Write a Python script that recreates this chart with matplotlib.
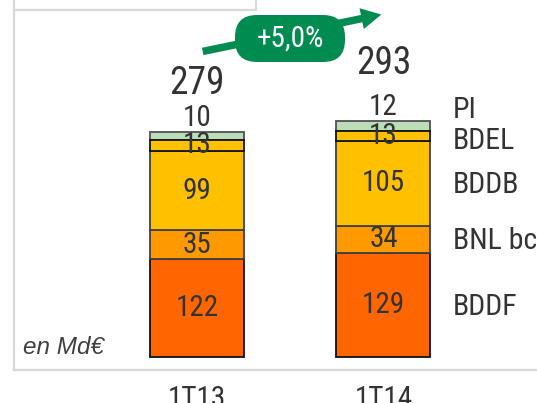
import matplotlib
matplotlib.use('Agg')
import matplotlib.pyplot as plt
from matplotlib.patches import FancyBboxPatch, FancyArrowPatch
from matplotlib.lines import Line2D
from matplotlib.transforms import IdentityTransform
import numpy as np

plt.rcParams['font.family'] = ['Roboto Condensed', 'DejaVu Sans']

# data (Md€)
periods = ['1T13', '1T14']
segments = ['BDDF', 'BNL bc', 'BDDB', 'BDEL', 'PI']
bddf = [122, 129]
bnl = [35, 34]
bddb = [99, 105]
bdel = [13, 13]
pi = [10, 12]
totals = [279, 293]
growth = '+5,0%'
unit = 'en Md€'

colors = ['#FF6600', '#FF9900', '#FFC000', '#FFC000', '#BBDEB9']
edges = ['#111111', '#404040', '#404040', '#111111', '#505050']
txt = '#333333'
green = '#008C50'
frame = '#D9D9D9'

W, H = 537, 403
fig = plt.figure(figsize=(W / 100, H / 100), dpi=100)
ax = fig.add_axes([14 / W, 33 / H, 523 / W, 370 / H])
ax.set_xlim(-0.981, 1.823)
ax.set_ylim(-16.1, 442.9)

x = np.arange(len(periods))
stack = [bddf, bnl, bddb, bdel, pi]
bottom = np.zeros(len(periods))
centers = []
for i, (vals, c, ec) in enumerate(zip(stack, colors, edges)):
    vals = np.array(vals)
    ax.bar(x, vals, 0.504, bottom=bottom, color=c, edgecolor=ec,
           linewidth=1.3, zorder=3 if segments[i] == 'BDEL' else 2)
    mid = bottom + vals / 2
    centers.append(mid)
    for j in range(len(x)):
        if segments[i] == 'PI':
            # small top segment: value sits above the bar
            ax.text(x[j], bottom[j] + vals[j] + 17, str(vals[j]), ha='center',
                    va='center', fontsize=21, color=txt, zorder=4)
        else:
            ax.text(x[j], mid[j], str(vals[j]), ha='center', va='center',
                    fontsize=21, color=txt, zorder=4)
    bottom = bottom + vals

# totals
for j, (t, off) in enumerate(zip(totals, [35, 41])):
    ax.annotate(str(t), (x[j], t), xytext=(0, off), textcoords='offset points',
                ha='center', va='center', fontsize=27, color=txt)

# segment names to the right of last bar
name_y = [c[-1] for c in centers]
name_y[3] -= 5
name_y[4] = totals[-1] + 15
for name, yy in zip(segments, name_y):
    ax.text(x[-1] + 0.373, yy - 2, name, ha='left', va='center',
            fontsize=21.5, color=txt)

ax.set_xticks(x)
ax.set_xticklabels(periods, fontsize=21, color=txt)
ax.tick_params(axis='x', length=0, pad=11)
ax.set_yticks([])
for s in ['top', 'right']:
    ax.spines[s].set_visible(False)
for s in ['left', 'bottom']:
    ax.spines[s].set_color(frame)
    ax.spines[s].set_linewidth(1.6)

# small box at the top left
fig.add_artist(Line2D([14 / W, 256 / W, 256 / W], [1 - 10 / H, 1 - 10 / H, 1],
                      color=frame, lw=1.6, transform=fig.transFigure))

fig.text(23 / W, 1 - 347 / H, unit, ha='left', va='center', fontsize=17.5,
         style='italic', family='Liberation Sans', color='#404040')

# growth arrow with pill label
arr = FancyArrowPatch((200, H - 52), (384, H - 14), transform=IdentityTransform(),
                      arrowstyle='simple,head_length=0.8,head_width=0.85,tail_width=0.3',
                      mutation_scale=18, color=green, lw=0)
fig.add_artist(arr)
pill = FancyBboxPatch((235, H - 62), 110, 47, transform=IdentityTransform(),
                      boxstyle='round,pad=0,rounding_size=22', fc=green, ec='none')
fig.add_artist(pill)
fig.text(290 / W, 1 - 39 / H, growth, ha='center', va='center', fontsize=21,
         color='white')

fig.savefig('out.png', dpi=100)
